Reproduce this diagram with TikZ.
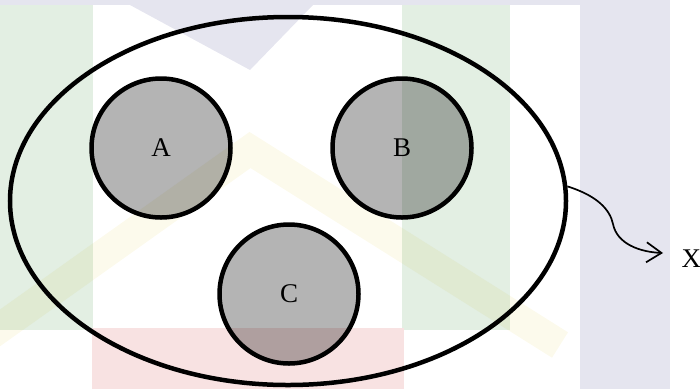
\documentclass[tikz,border=0pt]{standalone}
\usepackage{fontspec}
\setmainfont{Liberation Serif}
\usetikzlibrary{arrows.meta,shapes.geometric}
\definecolor{wmlav}{HTML}{E5E5EF}
\definecolor{wmgreen}{HTML}{E3EFE3}
\definecolor{wmpink}{HTML}{F8E2E2}
\definecolor{wmyellow}{HTML}{FCFAEC}
\definecolor{setgray}{HTML}{B4B4B4}
\tikzset{
  subset/.style={circle, draw=black, line width=4.5pt, fill=setgray, minimum size=139pt, inner sep=0pt},
  universe/.style={ellipse, draw=black, line width=4.5pt, minimum width=556pt, minimum height=368pt, inner sep=0pt},
  lbl/.style={inner sep=0pt, scale=2.7}
}
\begin{document}
\begin{tikzpicture}[x=1pt,y=-1pt]
\useasboundingbox (0,0) rectangle (700,389);
% faint watermark background
\fill[wmlav] (0,0) rectangle (580,5);
\fill[wmlav] (130,5) -- (313,5) -- (250,70) -- cycle;
\fill[wmgreen] (0,5) rectangle (93,330);
\fill[wmgreen] (402,5) rectangle (510,330);
\begin{scope}[blend mode=multiply]
\draw[wmyellow, line width=30pt] (-10,335) -- (250,150) -- (560,345);
\end{scope}
\fill[wmpink] (92,328) rectangle (404,389);
\fill[wmlav] (580,0) rectangle (670,389);
% sets
\node[universe] (U) at (288,201) {};
\begin{scope}[blend mode=multiply]
\node[subset] (A) at (161,148) {};
\node[subset] (B) at (402,148) {};
\node[subset] (C) at (289,294) {};
\end{scope}
\node[lbl] (la) at (A.center) {A};
\node[lbl] (lb) at (B.center) {B};
\node[lbl] (lc) at (C.center) {C};
\node[lbl, anchor=west] (X) at (681,259) {X};
\coordinate (tip) at (663,253);
\draw[line width=1.7pt, -{Straight Barb[length=15pt,width=20pt,line width=1.7pt]}]
  (U.3) .. controls (598,196) and (610,210) .. (613,224)
        .. controls (617,244) and (640,252) .. (tip);
\end{tikzpicture}
\end{document}
